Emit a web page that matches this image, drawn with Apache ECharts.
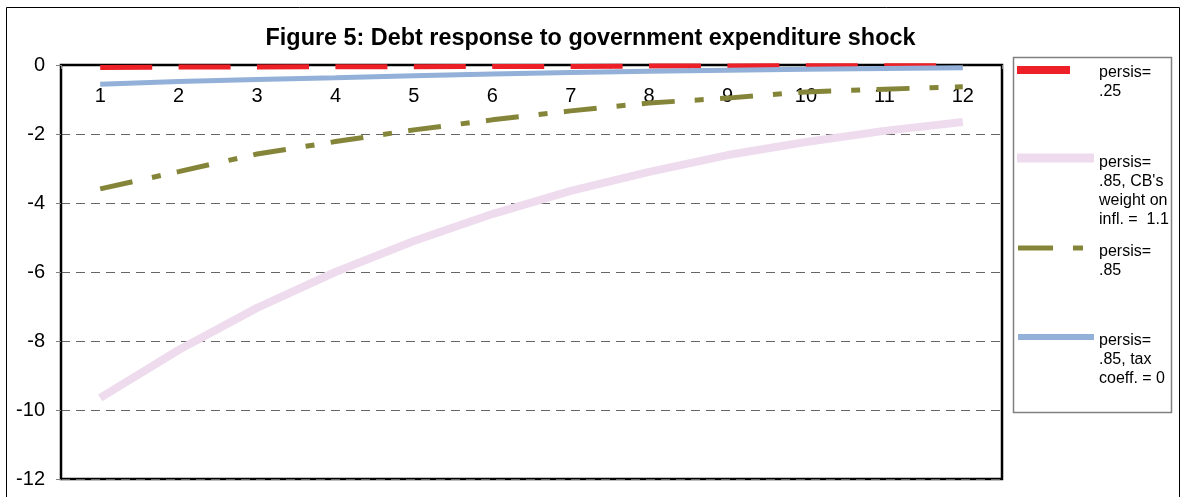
<!DOCTYPE html>
<html>
<head>
<meta charset="utf-8">
<script src="https://cdn.jsdelivr.net/npm/echarts@6/dist/echarts.min.js"></script>
<style>
html,body{margin:0;padding:0;background:#fff;}
#chart{width:1181px;height:497px;}
</style>
</head>
<body>
<div id="chart"></div>
<script>
const categories = ['1','2','3','4','5','6','7','8','9','10','11','12'];
const seriesNames = ['persis= .25', "persis= .85, CB's weight on infl. = 1.1", 'persis= .85', 'persis= .85, tax coeff. = 0'];
const legendLines = [["persis=", ".25"], ["persis=", ".85, CB's", "weight on", "infl. =  1.1"], ["persis=", ".85"], ["persis=", ".85, tax", "coeff. = 0"]];
const persis25 = [-0.07,-0.06,-0.06,-0.05,-0.05,-0.04,-0.04,-0.03,-0.03,-0.02,-0.02,-0.02];
const persis85CB = [-9.65,-8.26,-7.04,-6.00,-5.10,-4.32,-3.65,-3.10,-2.61,-2.23,-1.91,-1.65];
const persis85 = [-3.59,-3.09,-2.58,-2.22,-1.88,-1.59,-1.33,-1.10,-0.96,-0.78,-0.70,-0.63];
const persis85Tax = [-0.56,-0.48,-0.42,-0.37,-0.31,-0.26,-0.22,-0.18,-0.15,-0.12,-0.10,-0.08];
const yMin = -12, yMax = 0, yStep = 2;

const FONT = '"Liberation Sans", Arial, sans-serif';
const colors = ['#ee2027', '#eedcee', '#85853a', '#93b1d8'];

const chart = echarts.init(document.getElementById('chart'), null, {renderer: 'canvas'});

function legendFor(i, opts) {
  return {
    data: [{name: seriesNames[i], icon: opts.icon}],
    left: opts.left, top: opts.top, padding: 0, orient: 'vertical',
    itemWidth: opts.w, itemHeight: opts.h, selectedMode: false,
    formatter: () => '{s| }\n' + legendLines[i].map(l => '{t|' + l + '}').join('\n'),
    textStyle: {fontFamily: FONT, fontSize: 16, color: '#000', lineHeight: 19,
      padding: [0, 0, 0, opts.pl],
      rich: {
        s: {fontFamily: FONT, fontSize: 1, lineHeight: opts.sp, height: opts.sp},
        t: {fontFamily: FONT, fontSize: 16, color: '#000', lineHeight: 19}
      }}
  };
}

chart.setOption({
  animation: false,
  backgroundColor: '#fff',
  textStyle: {fontFamily: FONT},
  title: {
    text: 'Figure 5: Debt response to government expenditure shock',
    left: 'center', top: 27, padding: 0,
    textStyle: {fontFamily: FONT, fontSize: 23.4, fontWeight: 'bold', color: '#000'}
  },
  graphic: [
    {type: 'rect', silent: true, z: -1, shape: {x: 6.5, y: 7.5, width: 1173, height: 500},
     style: {fill: 'none', stroke: '#000', lineWidth: 1}},
    {type: 'rect', silent: true, z: -1, shape: {x: 1013.5, y: 57.5, width: 158, height: 355},
     style: {fill: 'none', stroke: '#808080', lineWidth: 1.5}}
  ],
  legend: [
    legendFor(0, {icon: 'rect', left: 1017, top: 38.5, w: 53, h: 8, sp: 25, pl: 24}),
    legendFor(1, {icon: 'rect', left: 1017, top: 86.5, w: 77, h: 9, sp: 67, pl: 0}),
    legendFor(2, {icon: 'path://M0,0H35V5H0Z M55,0H65V5H55Z', left: 1018, top: 215.5, w: 65, h: 5, sp: 27, pl: 11}),
    legendFor(3, {icon: 'rect', left: 1018, top: 285.5, w: 76, h: 6, sp: 46, pl: 0})
  ],
  grid: {left: 61, right: 179, top: 65, bottom: 18, show: true, borderColor: '#000', borderWidth: 2.5, backgroundColor: 'transparent'},
  xAxis: {
    type: 'category', data: categories, boundaryGap: true, position: 'top',
    axisLine: {show: true, onZero: false, lineStyle: {color: '#000', width: 2}},
    axisTick: {show: true, inside: true, length: 4, lineStyle: {color: '#808080'}},
    axisLabel: {inside: true, fontFamily: FONT, fontSize: 20, color: '#000', margin: 21},
    splitLine: {show: false}
  },
  yAxis: {
    type: 'value', min: yMin, max: yMax, interval: yStep,
    axisLine: {show: true, lineStyle: {color: '#000', width: 2}},
    axisTick: {show: true, length: 5, lineStyle: {color: '#808080'}},
    axisLabel: {fontFamily: FONT, fontSize: 20, color: '#000', margin: 16},
    splitLine: {show: true, lineStyle: {color: '#666', width: 1, type: [9, 6]}}
  },
  series: [
    {name: seriesNames[0], type: 'line', data: persis25, symbol: 'none', clip: false,
     itemStyle: {color: colors[0]}, lineStyle: {color: colors[0], width: 5, type: [52, 26.4], cap: 'butt'}},
    {name: seriesNames[1], type: 'line', data: persis85CB, symbol: 'none', clip: false,
     itemStyle: {color: colors[1]}, lineStyle: {color: colors[1], width: 8}},
    {name: seriesNames[2], type: 'line', data: persis85, symbol: 'none', clip: false,
     itemStyle: {color: colors[2]}, lineStyle: {color: colors[2], width: 5, type: [33, 20, 9, 16.4], cap: 'butt'}},
    {name: seriesNames[3], type: 'line', data: persis85Tax, symbol: 'none', clip: false,
     itemStyle: {color: colors[3]}, lineStyle: {color: colors[3], width: 5}}
  ]
});
</script>
</body>
</html>
